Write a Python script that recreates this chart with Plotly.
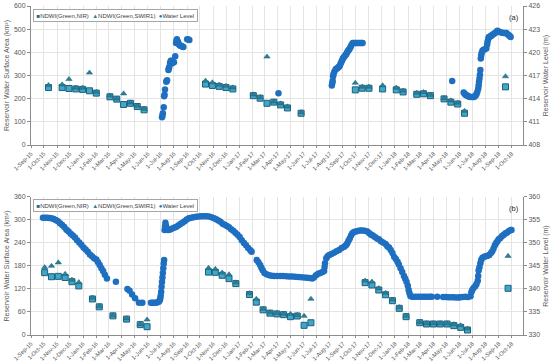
import plotly.graph_objects as go

# ---------------- Panel (a) ----------------
a_ndwi_dates = ["2015-10-12", "2015-11-13", "2015-11-29", "2015-12-15", "2015-12-31", "2016-01-16",
                "2016-02-01", "2016-03-04", "2016-03-20", "2016-04-05", "2016-04-21", "2016-05-07",
                "2016-05-23", "2016-10-14", "2016-10-30", "2016-11-15", "2016-12-01", "2016-12-17",
                "2017-02-03", "2017-02-19", "2017-03-07", "2017-03-23", "2017-04-08", "2017-04-24",
                "2017-05-26", "2017-09-30", "2017-10-16", "2017-11-01", "2017-12-03", "2018-01-04",
                "2018-01-20", "2018-02-21", "2018-03-09", "2018-03-25", "2018-04-26", "2018-05-12",
                "2018-05-28", "2018-06-13", "2018-09-17"]
a_nir = [248, 248, 244, 242, 240, 234, 224, 208, 198, 175, 180, 166, 152,
         263, 257, 253, 248, 242, 213, 202, 180, 185, 173, 160, 137,
         238, 245, 245, 242, 238, 229, 219, 221, 213, 199, 185, 177, 137, 251]
a_swir = [258, 261, 284, 247, 247, 312, 229, 213, 200, 222, 183, 169, 156,
          277, 270, 260, 255, 248, 218, 206, 381, 187, 179, 166, 141,
          268, 251, 251, 257, 247, 234, 225, 228, 216, 202, 192, 182, 147, 296]

a_wl_dates = ["2016-07-04", "2016-07-05", "2016-07-06", "2016-07-08", "2016-07-09", "2016-07-10",
              "2016-07-11", "2016-07-14", "2016-07-15", "2016-07-16", "2016-07-19", "2016-07-20",
              "2016-07-21", "2016-07-23", "2016-07-24", "2016-07-25", "2016-07-26", "2016-07-28",
              "2016-07-30", "2016-08-01", "2016-08-04", "2016-08-06", "2016-08-07", "2016-08-08",
              "2016-08-10", "2016-08-11", "2016-08-13", "2016-08-15", "2016-08-17", "2016-08-19",
              "2016-08-21", "2016-08-23", "2016-09-01", "2016-09-04", "2016-09-06",
              "2017-04-03",
              "2017-08-06", "2017-08-07", "2017-08-08", "2017-08-09", "2017-08-10", "2017-08-12",
              "2017-08-15", "2017-08-18", "2017-08-20", "2017-08-22", "2017-08-24", "2017-08-26",
              "2017-08-28", "2017-08-30", "2017-09-01", "2017-09-03", "2017-09-05", "2017-09-07",
              "2017-09-09", "2017-09-11", "2017-09-13", "2017-09-15", "2017-09-17", "2017-09-19",
              "2017-09-21", "2017-09-24", "2017-09-27", "2017-09-30", "2017-10-03", "2017-10-06",
              "2017-10-09", "2017-10-12", "2017-10-15", "2017-10-17",
              "2018-05-15",
              "2018-06-11", "2018-06-13", "2018-06-15", "2018-06-17", "2018-06-19", "2018-06-22",
              "2018-06-24", "2018-06-27", "2018-07-01", "2018-07-04", "2018-07-06", "2018-07-09",
              "2018-07-11", "2018-07-13", "2018-07-15", "2018-07-16", "2018-07-17", "2018-07-18",
              "2018-07-19", "2018-07-20", "2018-07-21", "2018-07-22", "2018-07-23", "2018-07-25",
              "2018-07-27", "2018-07-30", "2018-08-03", "2018-08-05", "2018-08-06", "2018-08-08",
              "2018-08-09", "2018-08-12", "2018-08-14", "2018-08-16", "2018-08-18", "2018-08-21",
              "2018-08-24", "2018-08-27", "2018-08-29", "2018-09-01", "2018-09-05", "2018-09-09",
              "2018-09-13", "2018-09-16", "2018-09-19", "2018-09-22", "2018-09-25", "2018-09-27",
              "2018-09-29"]
a_wl = [411.6, 411.8, 412.1, 412.9, 414.3, 414.5, 415.2, 416.2, 416.3, 416.4, 417.7, 417.9,
        418.1, 418.6, 418.8, 418.9, 418.9, 418.6, 418.7, 418.7, 419.5, 421.2, 421.5, 421.7,
        421.4, 421.2, 421.0, 420.9, 420.85, 420.8, 420.75, 420.7, 421.7, 421.65, 421.6,
        414.7,
        415.7, 416.0, 416.3, 416.9, 417.2, 417.5, 417.8, 417.9, 418.0, 418.1, 418.2, 418.45,
        418.7, 418.95, 419.2, 419.35, 419.5, 419.65, 419.8, 420.0, 420.2, 420.35, 420.5, 420.7,
        420.95, 421.2, 421.2, 421.2, 421.2, 421.2, 421.2, 421.2, 421.2, 421.2,
        416.3,
        414.8, 414.65, 414.55, 414.45, 414.4, 414.3, 414.25, 414.2, 414.2, 414.2, 414.25, 414.4,
        414.6, 414.9, 415.3, 415.7, 416.2, 416.6, 417.1, 417.7, 419.2, 419.6, 419.9, 420.2,
        420.3, 420.4, 420.5, 421.0, 421.4, 421.8, 422.0, 422.05, 422.1, 422.2, 422.3, 422.4,
        422.5, 422.65, 422.8, 422.7, 422.6, 422.55, 422.5, 422.5, 422.5, 422.35, 422.2, 422.1,
        422.0]

# ---------------- Panel (b) ----------------
b_ndwi_dates = ["2015-10-03", "2015-10-19", "2015-11-04", "2015-11-20", "2015-12-06", "2015-12-22",
                "2016-01-23", "2016-02-08", "2016-03-11", "2016-04-12", "2016-05-14", "2016-05-30",
                "2016-10-21", "2016-11-06", "2016-11-22", "2016-12-08", "2016-12-24", "2017-01-25",
                "2017-02-10", "2017-02-26", "2017-03-14", "2017-03-30", "2017-04-15", "2017-05-01",
                "2017-05-17", "2017-06-02", "2017-06-18", "2017-10-23", "2017-11-08", "2017-11-24",
                "2017-12-10", "2017-12-26", "2018-01-11", "2018-01-27", "2018-02-28", "2018-03-16",
                "2018-04-01", "2018-04-17", "2018-05-03", "2018-05-19", "2018-06-04", "2018-06-20",
                "2018-09-23"]
b_nir = [162.6, 152, 153, 150, 139, 128, 94, 73.5, 50, 41.5, 27, 21.6,
         164, 163.5, 155.7, 147, 134, 105.5, 85.6, 65.7, 57, 55, 53, 47.8, 49.6, 25.2, 32,
         136.5, 130.4, 117.4, 105, 89.5, 69.6, 47.8, 32.1, 28.7, 28.7, 28.7, 28.7, 24.4, 20, 13,
         121.8]
b_swir = [176.5, 180, 189, 159, 144, 137.5, 97, 75, 51, 43, 28, 40,
          175, 172, 162.6, 158, 137, 109, 94, 68, 59, 57, 55, 54.8, 52, 49.6, 94,
          141.7, 139, 121.8, 109.6, 92, 72.3, 49.6, 33.9, 30.4, 30.4, 30, 30, 27.8, 25, 16.5,
          206]

b_wl_dates = ["2015-09-29", "2015-10-04", "2015-10-09", "2015-10-14", "2015-10-19", "2015-10-24",
              "2015-10-29", "2015-11-03", "2015-11-08", "2015-11-13", "2015-11-18", "2015-11-23",
              "2015-11-28", "2015-12-03", "2015-12-08", "2015-12-13", "2015-12-18", "2015-12-23",
              "2015-12-28", "2016-01-02", "2016-01-07", "2016-01-12", "2016-01-17", "2016-01-22",
              "2016-01-27", "2016-02-01", "2016-02-05", "2016-02-09", "2016-02-13", "2016-02-17",
              "2016-02-21", "2016-02-26", "2016-03-18", "2016-04-14", "2016-04-19", "2016-04-25",
              "2016-05-02", "2016-05-11", "2016-05-19", "2016-06-08", "2016-06-12", "2016-06-16",
              "2016-06-20", "2016-06-24", "2016-06-27", "2016-06-29", "2016-06-30", "2016-07-01",
              "2016-07-02", "2016-07-03", "2016-07-04", "2016-07-05", "2016-07-06", "2016-07-07",
              "2016-07-08", "2016-07-09", "2016-07-10", "2016-07-11", "2016-07-12", "2016-07-13",
              "2016-07-15", "2016-07-18", "2016-07-22", "2016-07-27", "2016-08-01", "2016-08-06",
              "2016-08-11", "2016-08-16", "2016-08-21", "2016-08-26", "2016-08-31", "2016-09-05",
              "2016-09-10", "2016-09-16", "2016-09-22", "2016-09-28", "2016-10-04", "2016-10-10",
              "2016-10-16", "2016-10-22", "2016-10-28", "2016-11-03", "2016-11-08", "2016-11-13",
              "2016-11-18", "2016-11-23", "2016-11-28", "2016-12-03", "2016-12-08", "2016-12-13",
              "2016-12-18", "2016-12-23", "2016-12-28", "2017-01-02", "2017-01-07", "2017-01-12",
              "2017-01-17", "2017-01-22", "2017-01-27", "2017-01-30", "2017-02-11", "2017-02-15",
              "2017-02-19", "2017-02-22", "2017-02-25", "2017-03-01", "2017-03-06", "2017-03-12",
              "2017-03-18", "2017-03-24", "2017-03-31", "2017-04-07", "2017-04-14", "2017-04-21",
              "2017-04-28", "2017-05-05", "2017-05-12", "2017-05-19", "2017-05-26", "2017-06-02",
              "2017-06-09", "2017-06-15", "2017-06-21", "2017-06-25", "2017-06-30", "2017-07-05",
              "2017-07-10", "2017-07-15", "2017-07-19", "2017-07-20", "2017-07-21", "2017-07-24",
              "2017-07-27", "2017-07-31", "2017-08-05", "2017-08-11", "2017-08-17", "2017-08-23",
              "2017-08-29", "2017-09-04", "2017-09-08", "2017-09-11", "2017-09-14", "2017-09-17",
              "2017-09-20", "2017-09-23", "2017-09-27", "2017-10-01", "2017-10-06", "2017-10-11",
              "2017-10-16", "2017-10-22", "2017-10-28", "2017-11-02", "2017-11-06", "2017-11-10",
              "2017-11-15", "2017-11-20", "2017-11-24", "2017-11-29", "2017-12-04", "2017-12-10",
              "2017-12-14", "2017-12-18", "2017-12-22", "2017-12-26", "2017-12-30", "2018-01-03",
              "2018-01-07", "2018-01-10", "2018-01-14", "2018-01-18", "2018-01-22", "2018-01-25",
              "2018-01-28", "2018-01-31", "2018-02-02", "2018-02-04", "2018-02-06", "2018-02-10",
              "2018-02-16", "2018-02-22", "2018-02-28", "2018-03-06", "2018-03-12", "2018-03-18",
              "2018-03-24", "2018-03-28", "2018-04-10", "2018-04-24", "2018-04-30", "2018-05-06",
              "2018-05-12", "2018-05-18", "2018-05-24", "2018-05-30", "2018-06-03", "2018-06-09",
              "2018-06-15", "2018-06-21", "2018-06-27", "2018-06-29", "2018-07-01", "2018-07-04",
              "2018-07-08", "2018-07-11", "2018-07-14", "2018-07-15", "2018-07-16", "2018-07-18",
              "2018-07-20", "2018-07-22", "2018-07-25", "2018-07-29", "2018-08-02", "2018-08-06",
              "2018-08-10", "2018-08-14", "2018-08-17", "2018-08-20", "2018-08-23", "2018-08-26",
              "2018-08-29", "2018-09-01", "2018-09-05", "2018-09-09", "2018-09-13", "2018-09-17",
              "2018-09-21", "2018-09-25", "2018-09-29", "2018-10-01"]
b_wl = [355.5, 355.5, 355.5, 355.45, 355.35, 355.2,
        355.0, 354.7, 354.3, 353.9, 353.5, 352.9,
        352.5, 352.0, 351.6, 351.2, 350.6, 350.1,
        349.6, 349.0, 348.6, 348.1, 347.5, 347.1,
        346.7, 346.4, 345.8, 345.2, 344.5, 343.9,
        343.1, 342.3, 341.6, 340.0, 339.6, 338.8,
        338.0, 337.0, 337.0, 337.0, 337.0, 337.0,
        337.0, 337.1, 337.3, 337.6, 338.0, 338.6,
        339.4, 340.5, 341.5, 342.5, 343.5, 344.5,
        345.5, 346.3, 352.8, 353.6, 354.4, 353.8,
        353.2, 352.8, 352.9, 353.1, 353.3, 353.5,
        353.8, 354.1, 354.4, 354.7, 355.1, 355.4,
        355.5, 355.6, 355.7, 355.75, 355.8, 355.8,
        355.8, 355.75, 355.6, 355.4, 355.15, 354.9,
        354.6, 354.2, 353.95, 353.7, 353.4, 353.0,
        352.65, 352.2, 351.8, 351.3, 350.6, 350.0,
        349.5, 348.9, 348.4, 348.1, 346.3, 345.8,
        345.2, 344.6, 344.1, 343.5, 343.2, 343.0,
        342.9, 342.8, 342.8, 342.8, 342.8, 342.75,
        342.7, 342.7, 342.65, 342.6, 342.55, 342.5,
        342.45, 342.4, 342.3, 342.5, 343.0, 343.3,
        343.5, 343.7, 343.9, 344.8, 345.6, 346.7,
        347.1, 347.4, 347.6, 347.9, 348.2, 348.5,
        348.9, 349.2, 349.5, 349.9, 350.5, 351.0,
        351.6, 352.1, 352.4, 352.5, 352.6, 352.7,
        352.7, 352.65, 352.5, 352.1, 351.8, 351.6,
        351.3, 351.0, 350.8, 350.4, 350.1, 349.8,
        349.3, 349.0, 348.5, 347.8, 347.0, 346.5,
        345.9, 345.3, 344.5, 343.7, 342.8, 342.2,
        341.6, 340.7, 339.8, 339.1, 338.5, 338.3,
        338.3, 338.3, 338.3, 338.3, 338.3, 338.3,
        338.3, 338.3, 338.3, 338.25, 338.25, 338.2,
        338.2, 338.2, 338.15, 338.15, 338.2, 338.25,
        338.3, 338.25, 338.4, 339.3, 339.8, 340.2,
        340.6, 341.1, 341.8, 342.8, 344.0, 344.7,
        345.6, 346.3, 346.8, 347.0, 347.1, 347.2,
        347.4, 347.8, 348.2, 348.8, 349.5, 350.0,
        350.4, 350.8, 351.1, 351.5, 351.8, 352.1,
        352.3, 352.6, 352.8, 352.8]

series_names = ["NDWI(Green,NIR)", "NDWI(Green,SWIR1)", "Water Level"]

FONT = "Liberation Sans, Arial, sans-serif"
SQ_FILL = "#3fa7c9"
SQ_LINE = "#1e5f7c"
TRI_COL = "#2b7f98"
WL_COL = "#1f6fc1"
GRID = "#e4e4e4"
AXC = "#8c8c8c"
TXT = "#595959"

fig = go.Figure()


def add_panel(xa, ya_left, ya_right, nd_dates, nir, swir, wl_dates, wl):
    fig.add_trace(go.Scatter(
        x=nd_dates, y=nir, mode="markers", name=series_names[0], showlegend=False,
        marker=dict(symbol="square", size=6, color=SQ_FILL, line=dict(color=SQ_LINE, width=1)),
        xaxis=xa, yaxis=ya_left))
    fig.add_trace(go.Scatter(
        x=nd_dates, y=swir, mode="markers", name=series_names[1], showlegend=False,
        marker=dict(symbol="triangle-up", size=5.5, color=TRI_COL, line=dict(color="#1d5f73", width=0.5)),
        xaxis=xa, yaxis=ya_left))
    fig.add_trace(go.Scatter(
        x=wl_dates, y=wl, mode="markers", name=series_names[2], showlegend=False,
        marker=dict(symbol="circle", size=6.5, color=WL_COL),
        xaxis=xa, yaxis=ya_right))


add_panel("x", "y", "y2", a_ndwi_dates, a_nir, a_swir, a_wl_dates, a_wl)
add_panel("x2", "y3", "y4", b_ndwi_dates, b_nir, b_swir, b_wl_dates, b_wl)

xcommon = dict(type="date", range=["2015-09-01", "2018-10-28"], tick0="2015-09-01", dtick="M1",
               tickformat="%-d-%b-%y", tickangle=-45, tickfont=dict(size=5.8, color=TXT, family=FONT),
               showgrid=True, gridcolor=GRID, gridwidth=1, showline=True, linecolor=AXC, linewidth=1,
               ticks="outside", ticklen=2, tickcolor=AXC, zeroline=False, automargin=False)
ycommon = dict(showgrid=True, gridcolor=GRID, showline=True, linecolor=AXC, linewidth=1,
               ticks="outside", ticklen=3, tickcolor=AXC, zeroline=False, automargin=False,
               tickfont=dict(size=7, color=TXT, family=FONT))
ytitle_font = dict(size=7, color=TXT, family=FONT)

top_dom = [0.5775, 1.0]
bot_dom = [0.0, 0.4195]

legend_text = ("<span style='color:#1e6f8c'>■</span>" + series_names[0] +
               "  <span style='color:#2b7f98'>▲</span>" + series_names[1] +
               "  <span style='color:#1f6fc1'>●</span>" + series_names[2])

fig.update_layout(
    width=550, height=362,
    margin=dict(l=31, r=27, t=6, b=27),
    paper_bgcolor="white", plot_bgcolor="white",
    font=dict(family=FONT, size=7, color=TXT),
    showlegend=False,
    xaxis=dict(xcommon, domain=[0, 1], anchor="y"),
    xaxis2=dict(xcommon, domain=[0, 1], anchor="y3"),
    yaxis=dict(ycommon, domain=top_dom, anchor="x", range=[0, 600], dtick=100,
               title=dict(text="Reservoir Water Surface Area (km²)", font=ytitle_font, standoff=3)),
    yaxis2=dict(ycommon, overlaying="y", side="right", anchor="x", range=[408, 426], dtick=3,
                showgrid=False,
                title=dict(text="Reservoir Water Level (m)", font=ytitle_font, standoff=3)),
    yaxis3=dict(ycommon, domain=bot_dom, anchor="x2", range=[0, 360], dtick=60,
                title=dict(text="Reservoir Water Surface Area (km²)", font=ytitle_font, standoff=3)),
    yaxis4=dict(ycommon, overlaying="y3", side="right", anchor="x2", range=[330, 360], dtick=5,
                showgrid=False,
                title=dict(text="Reservoir Water Level (m)", font=ytitle_font, standoff=3)),
    annotations=[
        dict(text=legend_text, xref="paper", yref="paper", x=0.004, y=0.991,
             xanchor="left", yanchor="top", showarrow=False, align="left",
             font=dict(size=6, color="#404040", family=FONT),
             bgcolor="white", bordercolor="#a6a6a6", borderwidth=1, borderpad=2.5),
        dict(text=legend_text, xref="paper", yref="paper", x=0.004, y=0.4125,
             xanchor="left", yanchor="top", showarrow=False, align="left",
             font=dict(size=6, color="#404040", family=FONT),
             bgcolor="white", bordercolor="#a6a6a6", borderwidth=1, borderpad=2.5),
        dict(text="(a)", xref="paper", yref="paper", x=0.995, y=0.985, xanchor="right", yanchor="top",
             showarrow=False, font=dict(size=7.5, color="#262626", family=FONT)),
        dict(text="(b)", xref="paper", yref="paper", x=0.995, y=0.405, xanchor="right", yanchor="top",
             showarrow=False, font=dict(size=7.5, color="#262626", family=FONT)),
    ],
)

fig.write_html("out.html", config={"displayModeBar": False},
               post_script="document.body.style.margin='0';document.body.style.overflow='hidden';")
